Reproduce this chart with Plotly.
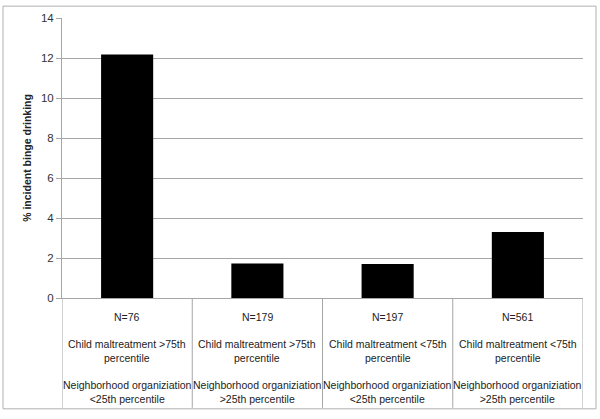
import plotly.graph_objects as go

categories = ["N=76", "N=179", "N=197", "N=561"]
maltreatment = ["Child maltreatment >75th<br>percentile", "Child maltreatment >75th<br>percentile",
                "Child maltreatment <75th<br>percentile", "Child maltreatment <75th<br>percentile"]
neighborhood = ["Neighborhood organiziation<br><25th percentile", "Neighborhood organiziation<br>>25th percentile",
                "Neighborhood organiziation<br><25th percentile", "Neighborhood organiziation<br>>25th percentile"]
values = [12.17, 1.73, 1.70, 3.30]
y_ticks = [0, 2, 4, 6, 8, 10, 12, 14]

idx = list(range(len(categories)))
FONT = "Liberation Sans"
GRID = "#a6a6a6"

fig = go.Figure()
fig.add_trace(go.Bar(x=idx, y=values, width=0.4, marker=dict(color="black", line=dict(width=0)),
                     showlegend=False, hoverinfo="skip"))

L, R, T, B = 62, 17, 15, 121
W, H = 600, 419
pw, ph = W - L - R, H - T - B

def py(pix):
    return (H - B - pix) / ph

def px(pix):
    return (pix - L) / pw

tf = dict(family=FONT, size=10.5, color="#222")
annotations = []
for i in idx:
    for ypix, txt in [(317, categories[i]), (351.5, maltreatment[i]), (393, neighborhood[i])]:
        annotations.append(dict(x=i, y=py(ypix), xref="x", yref="paper", text=txt, showarrow=False,
                                xanchor="center", yanchor="middle", font=tf))

shapes = []
for b in [i - 0.5 for i in idx] + [idx[-1] + 0.5]:
    shapes.append(dict(type="line", xref="x", yref="paper", x0=b, x1=b, y0=0, y1=py(409),
                       line=dict(color=GRID, width=1)))
shapes.append(dict(type="rect", xref="paper", yref="paper", x0=px(3), x1=px(596), y0=py(3), y1=py(410),
                   line=dict(color="#b0b0b0", width=1), fillcolor="rgba(0,0,0,0)", layer="below"))

fig.update_layout(
    width=W, height=H,
    margin=dict(l=L, r=R, t=T, b=B),
    paper_bgcolor="white", plot_bgcolor="white",
    font=dict(family=FONT, size=11, color="#222"),
    xaxis=dict(range=[-0.5, len(idx) - 0.5], showticklabels=False, showgrid=False, zeroline=False,
               showline=True, linecolor=GRID, linewidth=1),
    yaxis=dict(range=[0, 14], tickvals=y_ticks, showgrid=True, gridcolor=GRID, gridwidth=1,
               zeroline=False, showline=True, linecolor=GRID, linewidth=1,
               ticks="outside", ticklen=5, tickcolor=GRID,
               tickfont=dict(family=FONT, size=11.5, color="#333"),
               title=dict(text="<b>% incident binge drinking</b>",
                          font=dict(family=FONT, size=10.5, color="#222"), standoff=7)),
    annotations=annotations,
    shapes=shapes,
    bargap=0.6,
)

fig.write_html("out.html", config={"displayModeBar": False},
               post_script="document.body.style.margin='0';")
